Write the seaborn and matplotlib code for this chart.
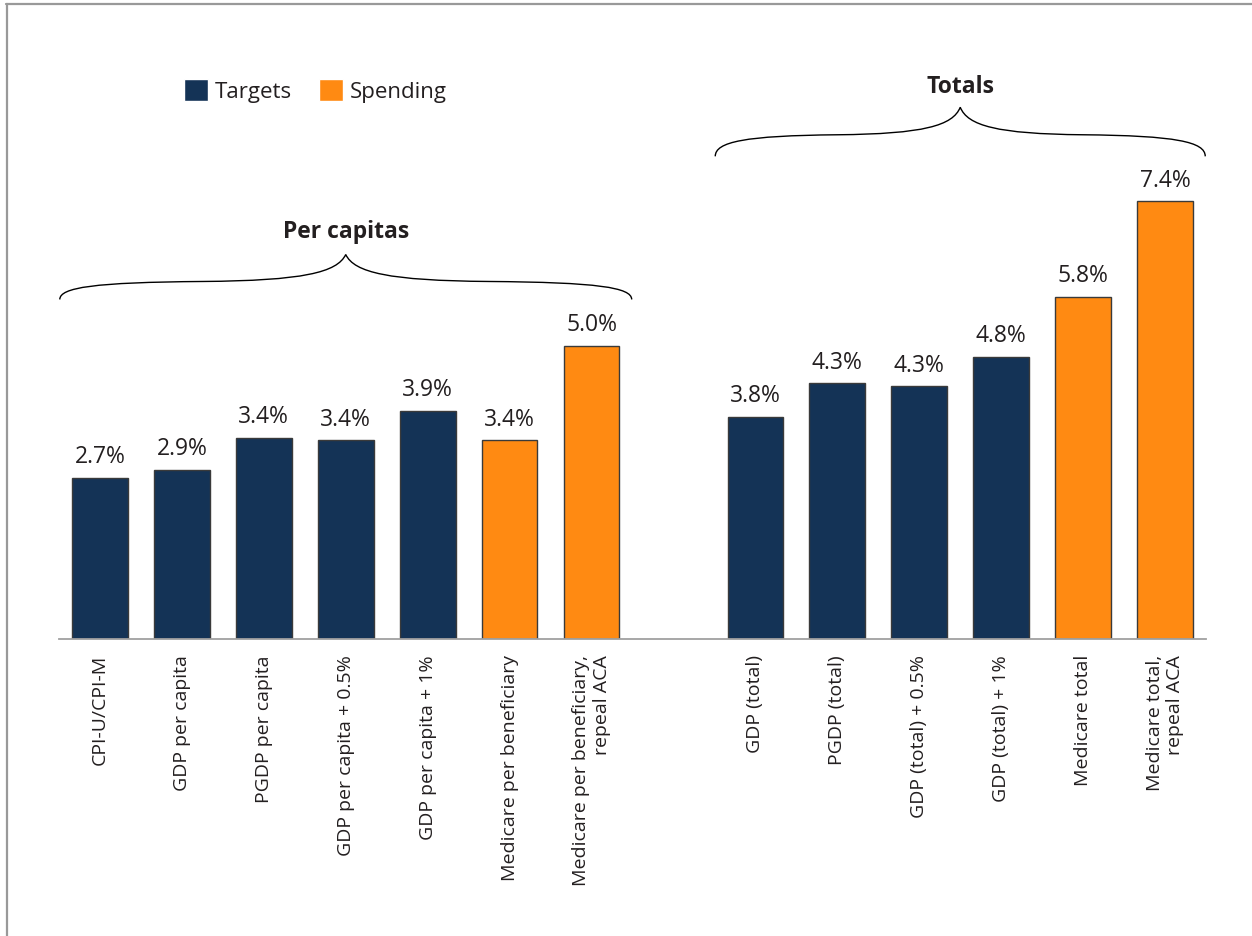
"""Growth targets vs Medicare spending bar chart."""
import matplotlib.pyplot as plt
import numpy as np
import pandas as pd
import seaborn as sns
from matplotlib.lines import Line2D
from matplotlib.patches import Patch, PathPatch
from matplotlib.path import Path

sns.set(style='white')
plt.rcParams['font.family'] = ['Open Sans', 'DejaVu Sans']

FIG_SIZE = (12.52, 9.37)
NAVY = '#143356'
ORANGE = '#FF8A12'
TEXT_COLOR = '#231F20'

# per capita group
PER_CAPITA_LABELS = ['CPI-U/CPI-M', 'GDP per capita', 'PGDP per capita',
                     'GDP per capita + 0.5%', 'GDP per capita + 1%',
                     'Medicare per beneficiary',
                     'Medicare per beneficiary,\nrepeal ACA']
PER_CAPITA_VALUES = [2.72, 2.86, 3.40, 3.36, 3.86, 3.36, 4.96]
PER_CAPITA_TYPES = ['Targets', 'Targets', 'Targets', 'Targets', 'Targets',
                    'Spending', 'Spending']

# totals group
TOTAL_LABELS = ['GDP (total)', 'PGDP (total)', 'GDP (total) + 0.5%',
                'GDP (total) + 1%', 'Medicare total',
                'Medicare total,\nrepeal ACA']
TOTAL_VALUES = [3.76, 4.32, 4.27, 4.77, 5.78, 7.40]
TOTAL_TYPES = ['Targets', 'Targets', 'Targets', 'Targets', 'Spending',
               'Spending']

GROUP_TITLES = ['Per capitas', 'Totals']


def brace(ax, x0, x1, y_end, y_flat, y_peak):
    """Draw a horizontal curly brace opening downwards, in data coords."""
    xm = (x0 + x1) / 2.0
    h = xm - x0
    verts = [
        (x0, y_end),
        (x0, y_end + 0.7 * (y_flat - y_end)), (x0 + 0.12 * h, y_flat),
        (x0 + 0.5 * h, y_flat + 0.03 * (y_peak - y_flat)),
        (x0 + 0.85 * h, y_flat + 0.06 * (y_peak - y_flat)),
        (xm - 0.03 * h, y_flat + 0.35 * (y_peak - y_flat)), (xm, y_peak),
        (xm + 0.03 * h, y_flat + 0.35 * (y_peak - y_flat)),
        (x1 - 0.85 * h, y_flat + 0.06 * (y_peak - y_flat)),
        (x1 - 0.5 * h, y_flat + 0.03 * (y_peak - y_flat)),
        (x1 - 0.12 * h, y_flat), (x1, y_end + 0.7 * (y_flat - y_end)),
        (x1, y_end),
    ]
    codes = [Path.MOVETO] + [Path.CURVE4] * 12
    ax.add_patch(PathPatch(Path(verts, codes), facecolor='none',
                           edgecolor='black', linewidth=1.0, clip_on=False))


n_pc = len(PER_CAPITA_VALUES)
positions = list(range(n_pc)) + list(range(n_pc + 1,
                                            n_pc + 1 + len(TOTAL_VALUES)))
df = pd.DataFrame({
    'pos': positions,
    'value': PER_CAPITA_VALUES + TOTAL_VALUES,
    'type': PER_CAPITA_TYPES + TOTAL_TYPES,
    'label': PER_CAPITA_LABELS + TOTAL_LABELS,
})

fig = plt.figure(figsize=FIG_SIZE, dpi=100)
ax = fig.add_axes([0.0471, 0.317, 0.9162, 0.505])

sns.barplot(data=df, x='pos', y='value', hue='type', native_scale=True,
            palette={'Targets': NAVY, 'Spending': ORANGE}, width=0.68,
            saturation=1, edgecolor='#3a3a3a', linewidth=1.0, legend=False,
            ax=ax)

ax.set_xlim(-0.5, positions[-1] + 0.5)
ax.set_ylim(0, 8.0)
ax.set_xticks(df['pos'])
ax.set_xticklabels(df['label'], rotation=90, fontsize=14, color=TEXT_COLOR,
                   ha='center', va='top', multialignment='right')
ax.tick_params(axis='x', length=0, pad=11)
ax.set_yticks([])
ax.set_xlabel('')
ax.set_ylabel('')
for side in ['top', 'left', 'right']:
    ax.spines[side].set_visible(False)
ax.spines['bottom'].set_color('#A0A0A0')
ax.spines['bottom'].set_linewidth(1.3)

for p, v in zip(df['pos'], df['value']):
    ax.annotate('{:.1f}%'.format(v), (p, v), xytext=(0, 7),
                textcoords='offset points', ha='center', va='bottom',
                fontsize=16.5, color=TEXT_COLOR)

# group braces and titles
brace(ax, -0.49, n_pc - 0.51, 5.74, 6.03, 6.50)
ax.text((n_pc - 1) / 2.0, 6.70, GROUP_TITLES[0], ha='center', va='bottom',
        fontsize=16.5, fontweight='bold', color=TEXT_COLOR)
brace(ax, n_pc + 0.51, positions[-1] + 0.49, 8.16, 8.51, 8.99)
ax.text((n_pc + 1 + positions[-1]) / 2.0, 9.15, GROUP_TITLES[1],
        ha='center', va='bottom', fontsize=16.5, fontweight='bold',
        color=TEXT_COLOR)

handles = [Patch(facecolor=NAVY, label='Targets'),
           Patch(facecolor=ORANGE, label='Spending')]
fig.legend(handles=handles, loc='center left', bbox_to_anchor=(0.131, 0.902),
           ncol=2, frameon=False, fontsize=16, handlelength=1.1,
           handleheight=1.1, handletextpad=0.3, columnspacing=1.2,
           labelcolor=TEXT_COLOR)

# partial frame (top and left edges)
fig.add_artist(Line2D([0.005, 1.0], [0.9947, 0.9947], color='#999999',
                      linewidth=1.6, transform=fig.transFigure))
fig.add_artist(Line2D([0.0053, 0.0053], [0.0, 0.9947], color='#999999',
                      linewidth=1.6, transform=fig.transFigure))

fig.savefig('out.png', dpi=100)
